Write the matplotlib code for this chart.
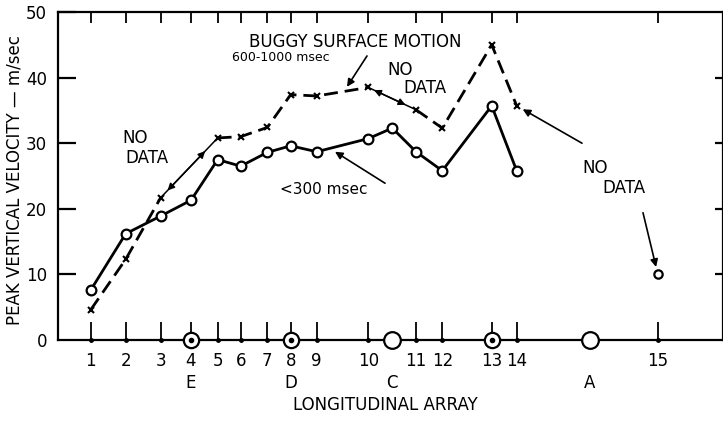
import numpy as np
import matplotlib
matplotlib.use("Agg")
import matplotlib.pyplot as plt
import matplotlib.transforms as mtransforms

plt.rcParams['font.family'] = ['DejaVu Sans']

# station numbers and their distance along the array (arbitrary units)
station_labels = ['1', '2', '3', '4', '5', '6', '7', '8', '9', '10', '11', '12', '13', '14', '15']
station_dist = [3.27, 6.77, 10.27, 13.3, 15.97, 18.27, 20.93, 23.27, 25.87,
                31.03, 35.8, 38.43, 43.37, 45.87, 59.97]

# array letters along the line
array_labels = ['E', 'D', 'C', 'A']
array_dist = [13.3, 23.27, 33.43, 53.2]
bullseye_stations = ['4', '8', '13']
open_arrays = ['C', 'A']

# < 300 msec peak velocities (m/sec)
short_at = ['1', '2', '3', '4', '5', '6', '7', '8', '9', '10', 'C', '11', '12', '13', '14']
short_vel = [7.6, 16.2, 18.9, 21.3, 27.5, 26.5, 28.6, 29.6, 28.7, 30.7, 32.3, 28.7, 25.8, 35.7, 25.8]
isolated_at = '15'
isolated_vel = 10.1

# buggy surface motion 600-1000 msec, in runs separated by "no data" gaps
buggy_runs = [
    (['1', '2', '3'], [4.6, 12.3, 21.7]),
    (['5', '6', '7', '8', '9', '10'], [30.8, 31.0, 32.4, 37.4, 37.2, 38.5]),
    (['11', '12', '13', '14'], [35.1, 32.3, 45.0, 35.7]),
]

pos = dict(zip(station_labels, station_dist))
pos.update(zip(array_labels, array_dist))

fig = plt.figure(figsize=(7.23, 4.21), dpi=100)
ax = fig.add_axes([58 / 723, 81 / 421, 664.5 / 723, 328 / 421])
ax.set_xlim(0, 66.45)
ax.set_ylim(0, 50)

for s in ax.spines.values():
    s.set_linewidth(1.6)

# solid curve
ax.plot([pos[k] for k in short_at], short_vel, color='black', lw=2.0,
        marker='o', ms=7, mfc='white', mec='black', mew=1.6, zorder=3)
ax.plot(pos[isolated_at], isolated_vel, 'o', ms=6, mfc='white', mec='black', mew=1.6, zorder=3)

# dashed curve
for names, vals in buggy_runs:
    ax.plot([pos[k] for k in names], vals, color='black', lw=2.0, ls=(0, (5, 2.5)),
            marker='x', ms=5, mew=1.5, zorder=3)

# "no data" connectors with arrows
for (a_names, a_vals), (b_names, b_vals) in zip(buggy_runs[:-1], buggy_runs[1:]):
    x0, y0 = pos[a_names[-1]], a_vals[-1]
    x1, y1 = pos[b_names[0]], b_vals[0]
    ax.plot([x0, x1], [y0, y1], color='black', lw=1.1)
    f0, f1 = 0.12, 0.78
    ax.annotate('', xy=(x0 + f0 * (x1 - x0), y0 + f0 * (y1 - y0)),
                xytext=(x0 + f1 * (x1 - x0), y0 + f1 * (y1 - y0)),
                arrowprops=dict(arrowstyle='<|-|>', color='black', lw=1.1,
                                mutation_scale=10, shrinkA=0, shrinkB=0))

# array station markers on the baseline
for k in bullseye_stations:
    ax.plot(pos[k], 0, 'o', ms=11, mfc='white', mec='black', mew=1.6, zorder=4, clip_on=False)
    ax.plot(pos[k], 0, 'o', ms=3, color='black', zorder=5, clip_on=False)
for k in open_arrays:
    ax.plot(pos[k], 0, 'o', ms=12, mfc='white', mec='black', mew=1.6, zorder=4, clip_on=False)
others = [pos[k] for k in station_labels if k not in bullseye_stations]
ax.plot(others, np.zeros(len(others)), 'o', ms=2.5, color='black', zorder=4, clip_on=False)

# ticks
ax.set_xticks(station_dist)
ax.set_xticklabels(station_labels, fontsize=12)
ax.tick_params(axis='x', direction='in', length=13, width=1.3, pad=9, top=True)
ax.set_yticks([0, 10, 20, 30, 40, 50])
ax.set_yticklabels(['0', '10', '20', '30', '40', '50'], fontsize=12)
ax.tick_params(axis='y', direction='in', length=13, width=1.6, pad=8, right=True)
for t in ax.xaxis.get_major_ticks():
    t.tick2line.set_markersize(8)
for t in ax.yaxis.get_major_ticks():
    t.tick2line.set_markersize(6)
ax.yaxis.get_major_ticks()[0].tick1line.set_visible(False)
ax.yaxis.get_major_ticks()[0].tick2line.set_visible(False)
ax.yaxis.get_major_ticks()[-1].tick2line.set_visible(False)

trans = mtransforms.blended_transform_factory(ax.transData, ax.transAxes)
for lab, d in zip(array_labels, array_dist):
    ax.text(d, -0.131, lab, transform=trans, ha='center', va='center', fontsize=12)
ax.text(32.7, -0.198, 'LONGITUDINAL ARRAY', transform=trans, ha='center', va='center', fontsize=12)
fig.text(15 / 723, 0.572, 'PEAK VERTICAL VELOCITY \u2014 m/sec', rotation=90,
         ha='center', va='center', fontsize=12)

# annotations
arrow = dict(arrowstyle='-|>', color='black', lw=1.2, mutation_scale=11, shrinkA=0, shrinkB=0)
ax.text(29.7, 45.4, 'BUGGY SURFACE MOTION', ha='center', va='center', fontsize=12)
ax.text(17.4, 43.0, '600-1000 msec', ha='left', va='center', fontsize=9)
ax.annotate('', xy=(28.9, 38.6), xytext=(30.9, 43.3), arrowprops=arrow)
ax.text(6.4, 30.8, 'NO', ha='left', va='center', fontsize=12)
ax.text(6.7, 27.7, 'DATA', ha='left', va='center', fontsize=12)
ax.text(32.9, 41.2, 'NO', ha='left', va='center', fontsize=12)
ax.text(34.5, 38.4, 'DATA', ha='left', va='center', fontsize=12)
ax.text(22.2, 22.9, '<300 msec', ha='left', va='center', fontsize=11)
ax.annotate('', xy=(27.7, 28.7), xytext=(32.7, 23.9), arrowprops=arrow)
ax.text(52.4, 26.2, 'NO', ha='left', va='center', fontsize=12)
ax.text(54.4, 23.2, 'DATA', ha='left', va='center', fontsize=12)
last_names, last_vals = buggy_runs[-1]
ax.annotate('', xy=(pos[last_names[-1]], last_vals[-1]), xytext=(52.4, 30.0),
            arrowprops=dict(arrow, shrinkB=5))
ax.annotate('', xy=(pos[isolated_at], isolated_vel), xytext=(58.5, 19.4),
            arrowprops=dict(arrow, shrinkB=5))

fig.savefig('out.png', dpi=100)
